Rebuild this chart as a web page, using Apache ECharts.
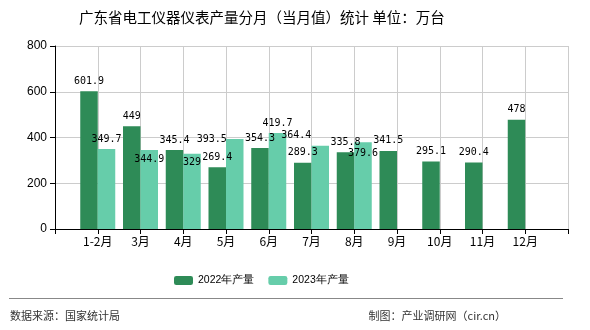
<!DOCTYPE html>
<html>
<head>
<meta charset="utf-8">
<script src="https://cdn.jsdelivr.net/npm/echarts@6/dist/echarts.min.js"></script>
<style>html,body{margin:0;padding:0;background:#fff}#c{width:590px;height:330px}</style>
</head>
<body>
<div id="c"></div>
<script>
var categories = ['', '1-2月', '3月', '4月', '5月', '6月', '7月', '8月', '9月', '10月', '11月', '12月', ''];
var values2022 = [null, 601.9, 449, 345.4, 269.4, 354.3, 289.3, 335.8, 341.5, 295.1, 290.4, 478, null];
var values2023 = [null, 349.7, 344.9, 329, 393.5, 419.7, 364.4, 379.6, null, null, null, null, null];
var seriesNames = ['2022年产量', '2023年产量'];
var yTicks = [0, 200, 400, 600, 800];

// label nudges (style only), keyed by data index, for the 2023 series
var labelNudge2023 = {2: [0, 19], 3: [0, 19], 4: [-23, 10], 6: [-24, 0], 7: [0, 21]};

var chart = echarts.init(document.getElementById('c'), null, {renderer: 'canvas'});
var labelStyle = {show: true, position: 'top', distance: 5, color: '#000', fontFamily: 'DejaVu Sans Mono', fontSize: 10};
chart.setOption({
  animation: false,
  title: {text: '广东省电工仪器仪表产量分月（当月值）统计 单位：万台', left: 74, top: 5,
    textStyle: {fontSize: 14.5, fontWeight: 'normal', color: '#000', fontFamily: 'Noto Sans CJK SC'}},
  legend: {data: seriesNames, left: 169, top: 270, itemWidth: 19, itemHeight: 9, itemGap: 14,
    textStyle: {fontSize: 10.5, color: '#000', fontFamily: 'Liberation Sans'}},
  grid: {left: 55, right: 22, top: 46, bottom: 101},
  xAxis: {type: 'category', data: categories, boundaryGap: false,
    axisLine: {lineStyle: {color: '#000'}},
    axisTick: {show: true, length: 5, lineStyle: {color: '#000'}},
    axisLabel: {color: '#000', fontSize: 12, fontFamily: 'Noto Sans CJK SC', margin: 6},
    splitLine: {show: true, lineStyle: {color: '#ccc'}}},
  yAxis: {type: 'value', min: yTicks[0], max: yTicks[yTicks.length - 1], interval: 200,
    axisLine: {show: true, lineStyle: {color: '#000'}},
    axisTick: {show: true, length: 5, lineStyle: {color: '#000'}},
    axisLabel: {color: '#000', fontSize: 12, fontFamily: 'Liberation Sans', margin: 8},
    splitLine: {show: true, lineStyle: {color: '#ccc'}}},
  series: [
    {name: seriesNames[0], type: 'bar', data: values2022, barWidth: 17.5, barGap: '0%',
      itemStyle: {color: '#2E8B57'}, label: labelStyle},
    {name: seriesNames[1], type: 'bar', data: values2023, barWidth: 17.5, barGap: '0%',
      itemStyle: {color: '#66CDAA'}, label: labelStyle,
      labelLayout: function (p) {
        var n = labelNudge2023[p.dataIndex];
        return n ? {dx: n[0], dy: n[1]} : {};
      }}
  ],
  graphic: [
    {type: 'line', shape: {x1: 9, y1: 298.5, x2: 563, y2: 298.5}, style: {stroke: '#888', lineWidth: 1}},
    {type: 'text', left: 10, top: 310, style: {text: '数据来源：国家统计局', fontSize: 11, fill: '#333', fontFamily: 'Noto Sans CJK SC'}},
    {type: 'text', right: 84, top: 310, style: {text: '制图：产业调研网（cir.cn）', fontSize: 11, fill: '#333', fontFamily: 'Noto Sans CJK SC'}}
  ]
});
</script>
</body>
</html>
